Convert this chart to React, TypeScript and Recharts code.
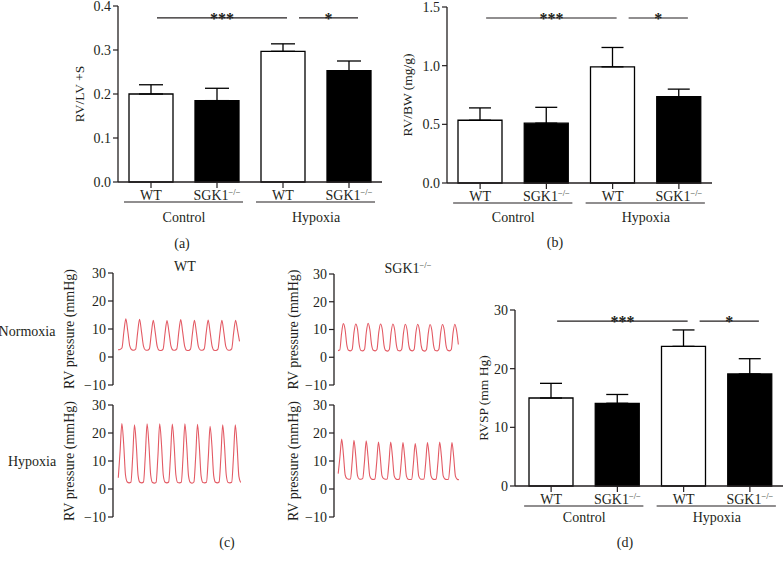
import React from "react";
import {
  BarChart,
  Bar,
  XAxis,
  YAxis,
  ErrorBar,
  Cell,
  ReferenceLine,
  LineChart,
  Line,
} from "recharts";

const INK = "#231f20";
const TRACE = "#e35a64";
const FONT = '"Liberation Serif", "DejaVu Serif", serif';

// shared categories of the bar panels
const genotypes = ["WT", "SGK1", "WT", "SGK1"];
const conditions = ["Control", "Control", "Hypoxia", "Hypoxia"];
const barFills = ["#ffffff", "#000000", "#ffffff", "#000000"];

// (a) RV/LV+S
const rvLvS = [0.2, 0.185, 0.297, 0.253];
const rvLvSErr = [0.021, 0.028, 0.017, 0.022];
const rvLvSTicks = [0, 0.1, 0.2, 0.3, 0.4];

// (b) RV/BW (mg/g)
const rvBw = [0.535, 0.51, 0.99, 0.735];
const rvBwErr = [0.105, 0.135, 0.165, 0.065];
const rvBwTicks = [0, 0.5, 1, 1.5];

// (d) RVSP (mm Hg)
const rvsp = [15.0, 14.1, 23.8, 19.1];
const rvspErr = [2.5, 1.5, 2.8, 2.6];
const rvspTicks = [0, 10, 20, 30];

// (c) RV pressure traces (mmHg)
const pressureTicks = [-10, 0, 10, 20, 30];

const wtNormoxia = [
  2.6, 2.7, 3.2, 9.0, 13.6,
  9.2, 4.0, 2.6, 2.4, 2.8, 8.6, 13.5,
  9.0, 3.9, 2.5, 2.4, 2.9, 8.4, 13.1,
  8.8, 3.8, 2.4, 2.3, 2.8, 8.5, 13.0,
  9.0, 4.0, 2.5, 2.4, 2.9, 8.8, 13.4,
  8.9, 3.9, 2.4, 2.3, 2.8, 8.5, 13.1,
  8.8, 3.8, 2.5, 2.4, 2.9, 8.6, 13.2,
  8.9, 3.9, 2.4, 2.3, 2.8, 8.5, 13.1,
  8.8, 3.8, 2.5, 2.4, 2.9, 8.6, 13.1,
  9.5, 5.6,
];

const wtHypoxia = [
  4.0, 13.5, 23.4,
  16.0, 5.0, 2.5, 2.2, 2.4, 11.5, 22.9,
  15.8, 4.8, 2.4, 2.2, 2.5, 11.8, 23.3,
  16.0, 5.0, 2.3, 2.1, 2.4, 11.6, 23.3,
  15.9, 4.9, 2.4, 2.2, 2.5, 11.7, 23.2,
  16.0, 5.0, 2.3, 2.2, 2.4, 11.8, 23.3,
  15.8, 4.8, 2.4, 2.1, 2.5, 11.5, 23.1,
  15.5, 4.7, 2.3, 2.2, 2.4, 11.2, 22.4,
  15.6, 4.8, 2.4, 2.2, 2.5, 11.5, 22.9,
  15.7, 4.9, 2.3, 2.2, 2.4, 11.6, 22.9,
  15.5, 4.5, 2.3,
];

const sgkNormoxia = [
  2.4, 2.6, 8.5, 12.1,
  10.0, 4.4, 2.5, 2.3, 2.8, 8.8, 12.0,
  10.2, 4.5, 2.4, 2.3, 2.9, 9.0, 12.2,
  10.0, 4.4, 2.5, 2.3, 2.8, 8.8, 12.0,
  10.1, 4.3, 2.4, 2.2, 2.8, 8.9, 12.0,
  9.9, 4.4, 2.4, 2.3, 2.9, 8.7, 11.9,
  9.9, 4.3, 2.5, 2.3, 2.8, 8.8, 11.9,
  9.8, 4.2, 2.4, 2.2, 2.8, 8.6, 11.8,
  9.8, 4.3, 2.4, 2.3, 2.9, 8.7, 11.8,
  9.9, 4.4, 2.5, 2.3, 2.8, 8.8, 11.9,
  9.6, 4.6,
];

const sgkHypoxia = [
  5.5, 11.5, 17.8,
  12.2, 5.0, 3.7, 3.5, 3.6, 9.8, 17.4,
  12.0, 4.9, 3.6, 3.5, 3.7, 9.6, 17.2,
  11.8, 4.8, 3.6, 3.4, 3.6, 9.5, 16.8,
  11.7, 4.8, 3.7, 3.5, 3.6, 9.4, 16.8,
  11.6, 4.7, 3.6, 3.4, 3.6, 9.4, 16.6,
  11.4, 4.6, 3.5, 3.4, 3.5, 9.2, 16.2,
  11.6, 4.7, 3.6, 3.5, 3.6, 9.4, 16.6,
  11.7, 4.8, 3.6, 3.4, 3.6, 9.5, 16.8,
  11.6, 4.7, 3.6, 3.4, 3.5, 9.4, 16.6,
  11.5, 4.6, 3.5, 3.3,
];

const TICK_SIZE = 6;
const TICK_MARGIN = 4;
const ids = genotypes.map((g, i) => `${conditions[i]}-${g}-${i}`);

const GenoTick = (props: any) => {
  const { x, y, payload, band, groupDy } = props;
  const i = ids.indexOf(payload.value);
  const axisY = y - TICK_SIZE - TICK_MARGIN;
  const geno = genotypes[i];
  return (
    <g fontFamily={FONT} fill={INK}>
      <text x={x} y={axisY + 13.5} dy="0.35em" textAnchor="middle" fontSize={14} fill={INK}>
        {geno === "SGK1" ? (
          <>
            SGK1
            <tspan dy={-5} fontSize={8.5}>
              −/−
            </tspan>
          </>
        ) : (
          geno
        )}
      </text>
      {i % 2 === 0 && (
        <>
          <line x1={x - 27} x2={x + band + 26} y1={axisY + 20} y2={axisY + 20} stroke={INK} strokeWidth={1.2} />
          <text x={x + band / 2} y={axisY + groupDy} dy="0.35em" textAnchor="middle" fontSize={14} fill={INK}>
            {conditions[i]}
          </text>
        </>
      )}
    </g>
  );
};

// significance bracket: line shifted a few px from the category centres, stars on top
const sigShape = (stars: string, dx1: number, dx2: number) => (p: any) => {
  const x1 = p.x1 + dx1;
  const x2 = p.x2 + dx2;
  return (
    <g>
      <line x1={x1} x2={x2} y1={p.y1} y2={p.y2} stroke={INK} strokeWidth={1.1} />
      <text
        x={(x1 + x2) / 2}
        y={p.y1 + 6}
        textAnchor="middle"
        fontSize={16}
        fontWeight="bold"
        fontFamily={FONT}
        fill={INK}
      >
        {stars}
      </text>
    </g>
  );
};

interface BarPanelProps {
  left: number;
  top: number;
  width: number;
  height: number;
  axisX: number;
  plotTop: number;
  plotBottom: number;
  plotRight: number;
  padLeft: number;
  values: number[];
  errors: number[];
  ticks: number[];
  fmt: (v: number) => string;
  yLabel: string;
  labelX: number;
  sigY: number;
  groupDy: number;
  capHalf: number;
}

const BarPanel: React.FC<BarPanelProps> = (p) => {
  const data = ids.map((id, i) => ({ id, value: p.values[i], err: [0, p.errors[i]] }));
  const xAxisHeight = 50;
  const band = (p.plotRight - p.axisX - p.padLeft) / ids.length;
  const margin = {
    top: p.plotTop - p.top,
    right: p.left + p.width - p.plotRight,
    bottom: p.top + p.height - p.plotBottom - xAxisHeight,
    left: 0,
  };
  const domainMax = p.ticks[p.ticks.length - 1];
  return (
    <div style={{ position: "absolute", left: p.left, top: p.top }}>
      <BarChart width={p.width} height={p.height} data={data} margin={margin}>
        <YAxis
          width={p.axisX - p.left}
          domain={[0, domainMax]}
          ticks={p.ticks}
          tickFormatter={p.fmt}
          interval={0}
          tickSize={5}
          tick={{ fill: INK, fontSize: 14, fontFamily: FONT }}
          axisLine={{ stroke: INK, strokeWidth: 1.3 }}
          tickLine={{ stroke: INK, strokeWidth: 1.2 }}
          label={{
            value: p.yLabel,
            angle: -90,
            position: "insideLeft",
            offset: p.labelX - p.left,
            style: { textAnchor: "middle", fill: INK, fontSize: 13.5, fontFamily: FONT },
          }}
        />
        <XAxis
          dataKey="id"
          type="category"
          height={xAxisHeight}
          interval={0}
          padding={{ left: p.padLeft, right: 0 }}
          tickSize={TICK_SIZE}
          tickMargin={TICK_MARGIN}
          axisLine={{ stroke: INK, strokeWidth: 1.3 }}
          tickLine={{ stroke: INK, strokeWidth: 1.2 }}
          tick={(tp: any) => <GenoTick {...tp} band={band} groupDy={p.groupDy} />}
        />
        <Bar dataKey="value" barSize={44} stroke="#000" strokeWidth={1.3} isAnimationActive={false}>
          {data.map((d, i) => (
            <Cell key={`cell-${i}`} fill={barFills[i]} />
          ))}
          <ErrorBar dataKey="err" direction="y" width={p.capHalf} stroke="#000" strokeWidth={1.3} />
        </Bar>
        <ReferenceLine
          segment={[
            { x: ids[0], y: p.sigY },
            { x: ids[2], y: p.sigY },
          ]}
          shape={sigShape("***", 6, 4)}
        />
        <ReferenceLine
          segment={[
            { x: ids[2], y: p.sigY },
            { x: ids[3], y: p.sigY },
          ]}
          shape={sigShape("*", 16, 9)}
        />
      </BarChart>
    </div>
  );
};

interface TracePanelProps {
  left: number;
  axisX: number;
  y30: number;
  yM10: number;
  values: number[];
  step: number;
  padLeft: number;
  labelX: number;
}

const minusFmt = (v: number) => (v < 0 ? `−${Math.abs(v)}` : `${v}`);

const TracePanel: React.FC<TracePanelProps> = (p) => {
  const data = p.values.map((v, i) => ({ i, p: v }));
  const plotW = p.padLeft + (p.values.length - 1) * p.step + 2;
  const yW = p.axisX - p.left;
  const pad = 12;
  return (
    <div style={{ position: "absolute", left: p.left, top: p.y30 - pad }}>
      <LineChart
        width={yW + plotW}
        height={p.yM10 - p.y30 + 2 * pad}
        data={data}
        margin={{ top: pad, right: 0, bottom: pad, left: 0 }}
      >
        <XAxis
          dataKey="i"
          type="number"
          hide
          domain={[0, p.values.length - 1]}
          padding={{ left: p.padLeft, right: 2 }}
        />
        <YAxis
          width={yW}
          domain={[-10, 30]}
          ticks={pressureTicks}
          interval={0}
          tickFormatter={minusFmt}
          tickSize={5}
          tick={{ fill: INK, fontSize: 14, fontFamily: FONT }}
          axisLine={{ stroke: INK, strokeWidth: 1.3 }}
          tickLine={{ stroke: INK, strokeWidth: 1.2 }}
          label={{
            value: "RV pressure (mmHg)",
            angle: -90,
            position: "insideLeft",
            offset: p.labelX - p.left,
            style: { textAnchor: "middle", fill: INK, fontSize: 14, fontFamily: FONT },
          }}
        />
        <Line
          dataKey="p"
          type="monotone"
          stroke={TRACE}
          strokeWidth={1.1}
          dot={false}
          isAnimationActive={false}
        />
      </LineChart>
    </div>
  );
};

const Txt: React.FC<{ x: number; y: number; children: React.ReactNode }> = ({ x, y, children }) => (
  <div
    style={{
      position: "absolute",
      left: x,
      top: y,
      transform: "translate(-50%, -50%)",
      whiteSpace: "nowrap",
      fontFamily: FONT,
      fontSize: 14,
      lineHeight: "16px",
      color: INK,
    }}
  >
    {children}
  </div>
);

export default function App() {
  return (
    <div
      style={{
        position: "absolute",
        left: 0,
        top: 0,
        width: 784,
        height: 561,
        background: "#fff",
        overflow: "hidden",
      }}
    >
      <BarPanel
        left={60}
        top={0}
        width={330}
        height={237}
        axisX={118}
        plotTop={6}
        plotBottom={182}
        plotRight={382}
        padLeft={0}
        values={rvLvS}
        errors={rvLvSErr}
        ticks={rvLvSTicks}
        fmt={(v) => v.toFixed(1)}
        yLabel="RV/LV +S"
        labelX={79}
        sigY={0.373}
        groupDy={35}
        capHalf={12}
      />
      <BarPanel
        left={395}
        top={0}
        width={325}
        height={238}
        axisX={447}
        plotTop={7}
        plotBottom={183}
        plotRight={712}
        padLeft={0}
        values={rvBw}
        errors={rvBwErr}
        ticks={rvBwTicks}
        fmt={(v) => v.toFixed(1)}
        yLabel="RV/BW (mg/g)"
        labelX={407}
        sigY={1.406}
        groupDy={34}
        capHalf={11}
      />
      <BarPanel
        left={470}
        top={295}
        width={314}
        height={246}
        axisX={515}
        plotTop={310}
        plotBottom={486}
        plotRight={783}
        padLeft={3}
        values={rvsp}
        errors={rvspErr}
        ticks={rvspTicks}
        fmt={(v) => `${v}`}
        yLabel="RVSP (mm Hg)"
        labelX={483}
        sigY={28.1}
        groupDy={31}
        capHalf={11}
      />

      <TracePanel left={55} axisX={113} y30={273} yM10={385} values={wtNormoxia} step={1.96} padLeft={5} labelX={69} />
      <TracePanel left={55} axisX={113} y30={405} yM10={517} values={wtHypoxia} step={1.8} padLeft={5.3} labelX={69} />
      <TracePanel left={280} axisX={334} y30={274} yM10={385} values={sgkNormoxia} step={1.77} padLeft={4} labelX={293} />
      <TracePanel left={280} axisX={334} y30={405} yM10={517} values={sgkHypoxia} step={1.75} padLeft={4.2} labelX={293} />

      <Txt x={185} y={267}>WT</Txt>
      <Txt x={408} y={267}>
        SGK1<sup style={{ fontSize: 8.5 }}>−/−</sup>
      </Txt>
      <Txt x={27} y={332}>Normoxia</Txt>
      <Txt x={32} y={462}>Hypoxia</Txt>

      <Txt x={182} y={244}>(a)</Txt>
      <Txt x={555} y={243}>(b)</Txt>
      <Txt x={227} y={543}>(c)</Txt>
      <Txt x={625} y={543}>(d)</Txt>
    </div>
  );
}
